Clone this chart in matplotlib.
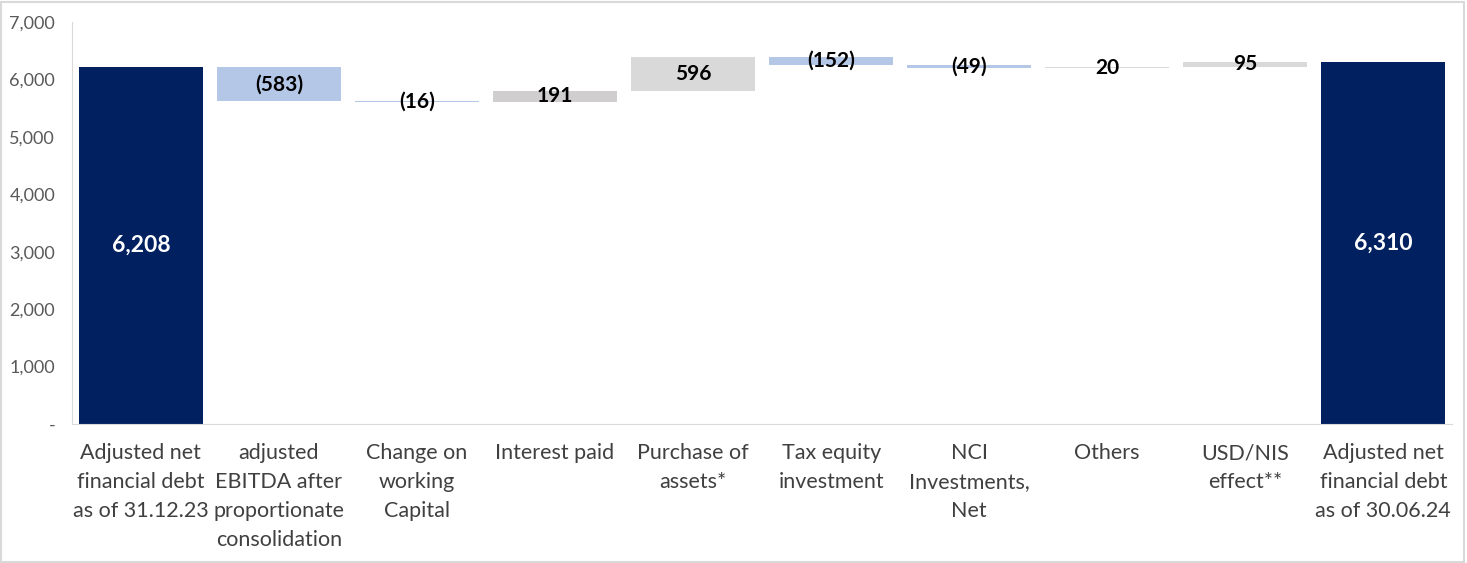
import matplotlib.pyplot as plt
from matplotlib.patches import Rectangle
import numpy as np

plt.rcParams['font.family'] = ['Lato', 'DejaVu Sans']

categories = ['Adjusted net\nfinancial debt\nas of 31.12.23',
              'adjusted\nEBITDA after\nproportionate\nconsolidation',
              'Change on\nworking\nCapital',
              'Interest paid',
              'Purchase of\nassets*',
              'Tax equity\ninvestment',
              'NCI\nInvestments,\nNet',
              'Others',
              'USD/NIS\neffect**',
              'Adjusted net\nfinancial debt\nas of 30.06.24']
start_value = 6208
changes = [-583, -16, 191, 596, -152, -49, 20, 95]
end_value = 6310
yticks = [0, 1000, 2000, 3000, 4000, 5000, 6000, 7000]

navy = '#002060'
neg_color = '#B4C7E7'
pos_colors = ['#D0CECE', '#D9D9D9', '#D9D9D9', '#D9D9D9']

# build waterfall bottoms / heights
bottoms = [0]
heights = [start_value]
colors = [navy]
level = start_value
pi = 0
for c in changes:
    new = level + c
    bottoms.append(min(level, new))
    heights.append(abs(c))
    if c < 0:
        colors.append(neg_color)
    else:
        colors.append(pos_colors[pi % len(pos_colors)])
        pi += 1
    level = new
bottoms.append(0)
heights.append(end_value)
colors.append(navy)

fig = plt.figure(figsize=(14.67, 5.63), dpi=100)
ax = fig.add_axes([0.049, 0.247, 0.941, 0.714])

x = np.arange(len(categories))
ax.bar(x, heights, bottom=bottoms, width=0.9, color=colors)

values = [start_value] + changes + [end_value]
for i, v in enumerate(values):
    txt = f'{v:,}' if v >= 0 else f'({-v:,})'
    if i == 0 or i == len(values) - 1:
        ax.text(x[i], heights[i] / 2, txt, ha='center', va='center',
                color='white', fontsize=16.5, fontweight='bold')
    else:
        ax.text(x[i], bottoms[i] + heights[i] / 2, txt, ha='center', va='center',
                color='black', fontsize=15, fontweight='bold')

ax.set_xlim(-0.5, len(categories) - 0.5)
ax.set_ylim(0, 7000)
ax.set_yticks(yticks)
ax.set_yticklabels([f'{t:,}' if t else '-' for t in yticks], color='#595959', fontsize=13)
ax.set_xticks(x)
ax.set_xticklabels(categories, color='#404040', fontsize=15.5, linespacing=1.55)
ax.tick_params(axis='both', length=0)
ax.tick_params(axis='x', pad=14)
ax.tick_params(axis='y', pad=12)

for s in ['top', 'right']:
    ax.spines[s].set_visible(False)
for s in ['left', 'bottom']:
    ax.spines[s].set_color('#D9D9D9')

fig.patches.append(Rectangle((0.001, 0.002), 0.997, 0.995, transform=fig.transFigure,
                             fill=False, edgecolor='#D9D9D9', linewidth=1.5))

fig.savefig('out.png', dpi=100)
